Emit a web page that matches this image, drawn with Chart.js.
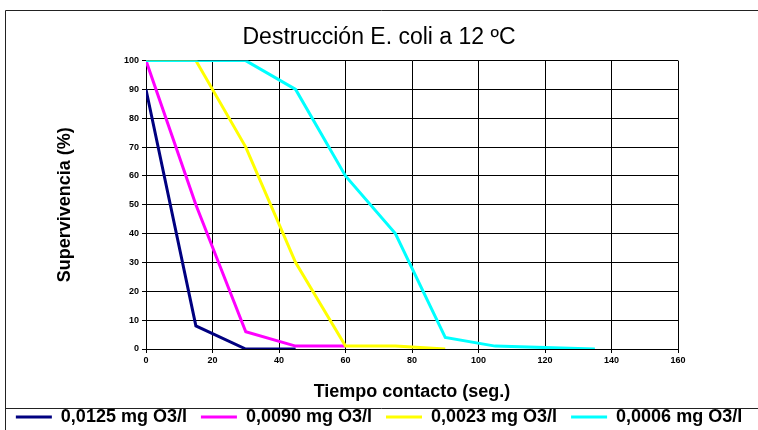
<!DOCTYPE html>
<html>
<head>
<meta charset="utf-8">
<script src="https://cdn.jsdelivr.net/npm/chart.js@4/dist/chart.umd.min.js"></script>
<style>
  html, body { margin: 0; padding: 0; background: #fff; }
</style>
</head>
<body>
<canvas id="chart" width="758" height="430"></canvas>
<script>
// contact time (s) and survival (%) per ozone dose
const times = [0, 15, 30, 45, 60, 75, 90, 105, 120, 135];
const seriesLabels = ['0,0125 mg O3/l', '0,0090 mg O3/l', '0,0023 mg O3/l', '0,0006 mg O3/l'];
const dose0125 = [90, 8, 0, 0];
const dose0090 = [100, 50, 6, 1, 1];
const dose0023 = [100, 100, 70, 30, 1, 1, 0];
const dose0006 = [100, 100, 100, 90, 60, 40, 4, 1, 0.5, 0];
const colors = ['#000080', '#ff00ff', '#ffff00', '#00ffff'];

const xTicks = [0, 20, 40, 60, 80, 100, 120, 140, 160];
const yTicks = [0, 10, 20, 30, 40, 50, 60, 70, 80, 90, 100];

Chart.defaults.font.family = '"Liberation Sans", Arial, sans-serif';
Chart.defaults.color = '#000';

const toPoints = (vals) => vals.map((v, i) => ({ x: times[i], y: v }));

const frame = {
  id: 'frame',
  beforeDraw(chart) {
    const ctx = chart.ctx;
    ctx.save();
    ctx.fillStyle = '#fff';
    ctx.fillRect(0, 0, chart.width, chart.height);
    ctx.strokeStyle = '#222';
    ctx.lineWidth = 1;
    ctx.beginPath();
    ctx.moveTo(chart.width, 10.5);
    ctx.lineTo(5.5, 10.5);
    ctx.lineTo(5.5, chart.height);
    ctx.moveTo(5.5, 408.5);
    ctx.lineTo(chart.width, 408.5);
    ctx.stroke();
    ctx.restore();
  }
};

const datasets = [dose0125, dose0090, dose0023, dose0006].map((vals, i) => ({
  label: seriesLabels[i],
  data: toPoints(vals),
  borderColor: colors[i],
  backgroundColor: colors[i],
  borderWidth: 3,
  pointRadius: 0,
  tension: 0,
  order: 3 - i
}));

new Chart(document.getElementById('chart'), {
  type: 'line',
  data: { datasets },
  plugins: [frame],
  options: {
    responsive: false,
    animation: false,
    layout: { padding: { left: 0, right: 0, top: 0, bottom: -6 } },
    scales: {
      x: {
        type: 'linear',
        min: 0,
        max: 160,
        afterBuildTicks: (s) => { s.ticks = xTicks.map(v => ({ value: v })); },
        afterFit: (s) => { s.height = 45; },
        grid: { color: '#000', lineWidth: 1, tickLength: 4, tickColor: '#000' },
        border: { color: '#000', width: 1 },
        ticks: { font: { size: 9, weight: 'bold' }, padding: 2, maxRotation: 0 },
        title: {
          display: true,
          text: 'Tiempo contacto (seg.)',
          font: { size: 18, weight: 'bold' },
          padding: { top: 0, bottom: -9 }
        }
      },
      y: {
        type: 'linear',
        min: 0,
        max: 100,
        afterBuildTicks: (s) => { s.ticks = yTicks.map(v => ({ value: v })); },
        afterFit: (s) => { s.width = 146; },
        grid: { color: '#000', lineWidth: 1, tickLength: 4, tickColor: '#000' },
        border: { color: '#000', width: 1 },
        ticks: { font: { size: 9, weight: 'bold' }, padding: 3 },
        title: {
          display: true,
          text: 'Supervivencia (%)',
          font: { size: 18, weight: 'bold' },
          padding: { top: 54, bottom: 0 }
        }
      },
      right: {
        type: 'linear',
        position: 'right',
        display: true,
        grid: { display: false },
        border: { display: false },
        ticks: { display: false },
        afterFit: (s) => { s.width = 80; }
      }
    },
    plugins: {
      title: {
        display: true,
        text: 'Destrucción E. coli a 12 ºC',
        font: { size: 23, weight: 'normal' },
        color: '#000',
        padding: { top: 24, bottom: 9 }
      },
      legend: {
        position: 'bottom',
        labels: {
          boxWidth: 36,
          boxHeight: 3,
          padding: 14,
          color: '#000',
          font: { size: 18, weight: 'bold' },
          sort: (a, b) => a.datasetIndex - b.datasetIndex,
          generateLabels: (chart) =>
            Chart.defaults.plugins.legend.labels.generateLabels(chart)
              .map(item => Object.assign(item, { lineWidth: 0 }))
        }
      },
      tooltip: { enabled: false }
    }
  }
});
</script>
</body>
</html>
